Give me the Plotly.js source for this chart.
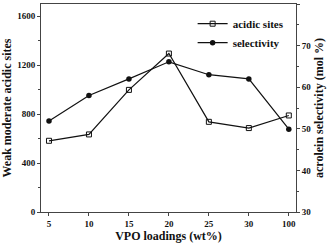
<!DOCTYPE html>
<html>
<head>
<meta charset="utf-8">
<script src="https://cdn.plot.ly/plotly-3.0.1.min.js"></script>
<style>html,body{margin:0;padding:0;background:#fff;}#chart{width:331px;height:248px;}</style>
</head>
<body>
<div id="chart"></div>
<script>
const loadings = ["5", "10", "15", "20", "25", "30", "100"];
const acidicSites = [582, 634, 998, 1295, 737, 686, 789];
const selectivity = [51.9, 58.0, 62.0, 66.1, 63.0, 62.0, 49.9];

const fnt = {family: "Liberation Serif", color: "#111", weight: "bold"};
const axisCol = "#444";

const traces = [
  {x: loadings, y: acidicSites, name: "acidic sites", type: "scatter", mode: "lines+markers",
   line: {color: "#111", width: 1.2},
   marker: {symbol: "square-open", size: 5, color: "#111", line: {width: 1}}, yaxis: "y"},
  {x: loadings, y: selectivity, name: "selectivity", type: "scatter", mode: "lines+markers",
   line: {color: "#111", width: 1.2},
   marker: {symbol: "circle", size: 5.5, color: "#111"}, yaxis: "y2"}
];

const layout = {
  width: 331, height: 248,
  margin: {l: 41, r: 35, t: 4, b: 36},
  paper_bgcolor: "#fff", plot_bgcolor: "#fff",
  font: fnt,
  showlegend: true,
  legend: {x: 0.975, y: 0.975, xanchor: "right", yanchor: "top", bgcolor: "rgba(0,0,0,0)",
           font: Object.assign({}, fnt, {size: 11}), tracegroupgap: 0, itemwidth: 30},
  xaxis: {type: "category", range: [-0.2, 6.18], showgrid: false, zeroline: false,
          showline: true, linecolor: axisCol, linewidth: 1, mirror: true,
          ticks: "outside", ticklen: 3, tickcolor: axisCol,
          tickfont: Object.assign({}, fnt, {size: 9}),
          title: {text: "VPO loadings (wt%)", font: Object.assign({}, fnt, {size: 12}), standoff: 0}},
  yaxis: {range: [0, 1700], showgrid: false, zeroline: false,
          showline: true, linecolor: axisCol, linewidth: 1,
          ticks: "outside", ticklen: 3, tickcolor: axisCol, dtick: 400, tick0: 0,
          minor: {dtick: 200, ticklen: 2, ticks: "outside", tickcolor: axisCol},
          tickfont: Object.assign({}, fnt, {size: 9}),
          title: {text: "Weak moderate acidic sites", font: Object.assign({}, fnt, {size: 12}), standoff: 4}},
  yaxis2: {range: [30, 80], overlaying: "y", side: "right", showgrid: false, zeroline: false,
           showline: true, linecolor: axisCol, linewidth: 1,
           ticks: "outside", ticklen: 3, tickcolor: axisCol, dtick: 10, tick0: 30,
           minor: {dtick: 5, ticklen: 2, ticks: "outside", tickcolor: axisCol},
           tickfont: Object.assign({}, fnt, {size: 9}),
           title: {text: "acrolein selectivity (mol %)", font: Object.assign({}, fnt, {size: 12}), standoff: 4}}
};

Plotly.newPlot("chart", traces, layout, {displayModeBar: false, staticPlot: true});
</script>
</body>
</html>
